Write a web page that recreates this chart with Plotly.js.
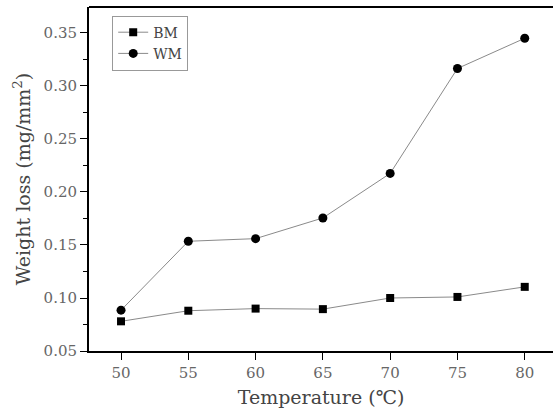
<!DOCTYPE html>
<html>
<head>
<meta charset="utf-8">
<script src="https://cdn.plot.ly/plotly-3.0.1.min.js"></script>
<style>html,body{margin:0;padding:0;background:#fff;}#chart{width:553px;height:409px;}</style>
</head>
<body>
<div id="chart"></div>
<script>
const temperature = [50, 55, 60, 65, 70, 75, 80];
const bmLoss = [0.078, 0.088, 0.090, 0.0895, 0.100, 0.101, 0.1105];
const wmLoss = [0.0885, 0.1535, 0.156, 0.1755, 0.2175, 0.3165, 0.345];
const xTickVals = [50, 55, 60, 65, 70, 75, 80];
const yTickVals = [0.05, 0.10, 0.15, 0.20, 0.25, 0.30, 0.35];
const yTickText = ['0.05', '0.10', '0.15', '0.20', '0.25', '0.30', '0.35'];

const serif = 'DejaVu Serif, Liberation Serif, serif';
const traces = [
  {x: temperature, y: bmLoss, name: 'BM', mode: 'lines+markers', type: 'scatter',
   line: {color: '#8a8a8a', width: 1}, marker: {symbol: 'square', size: 8, color: '#000'}},
  {x: temperature, y: wmLoss, name: 'WM', mode: 'lines+markers', type: 'scatter',
   line: {color: '#8a8a8a', width: 1}, marker: {symbol: 'circle', size: 9, color: '#000'}}
];
const layout = {
  width: 553, height: 409,
  margin: {l: 89, r: 0, t: 7, b: 58},
  paper_bgcolor: '#fff', plot_bgcolor: '#fff',
  showlegend: true,
  legend: {x: 0.05, y: 0.975, xanchor: 'left', yanchor: 'top', bordercolor: '#999', borderwidth: 1,
           font: {family: serif, size: 14, color: '#444'}, tracegroupgap: 0, itemwidth: 30},
  xaxis: {range: [47.62, 82.1], tickvals: xTickVals, ticktext: xTickVals.map(String),
          showgrid: false, zeroline: false, showline: true, linecolor: '#000', linewidth: 2,
          ticks: 'outside', ticklen: 7, tickwidth: 1, tickcolor: '#000',
          tickfont: {family: serif, size: 15, color: '#666'},
          title: {text: 'Temperature (℃)', font: {family: serif, size: 19, color: '#444'}, standoff: 10}},
  yaxis: {range: [0.05, 0.3745], tickvals: yTickVals, ticktext: yTickText,
          showgrid: false, zeroline: false, showline: true, linecolor: '#000', linewidth: 2,
          ticks: 'outside', ticklen: 7, tickwidth: 1, tickcolor: '#000',
          minor: {dtick: 0.025, tick0: 0.025, ticks: 'outside', ticklen: 4, tickcolor: '#000', tickwidth: 1},
          tickfont: {family: serif, size: 15, color: '#666'},
          title: {text: 'Weight loss (mg/mm<sup>2</sup>)', font: {family: serif, size: 19, color: '#444'}, standoff: 8}},
  shapes: [{type: 'line', xref: 'paper', yref: 'paper', x0: 0, x1: 1, y0: 1, y1: 1,
            line: {color: '#000', width: 2}}]
};
Plotly.newPlot('chart', traces, layout, {displayModeBar: false, staticPlot: true});
</script>
</body>
</html>
